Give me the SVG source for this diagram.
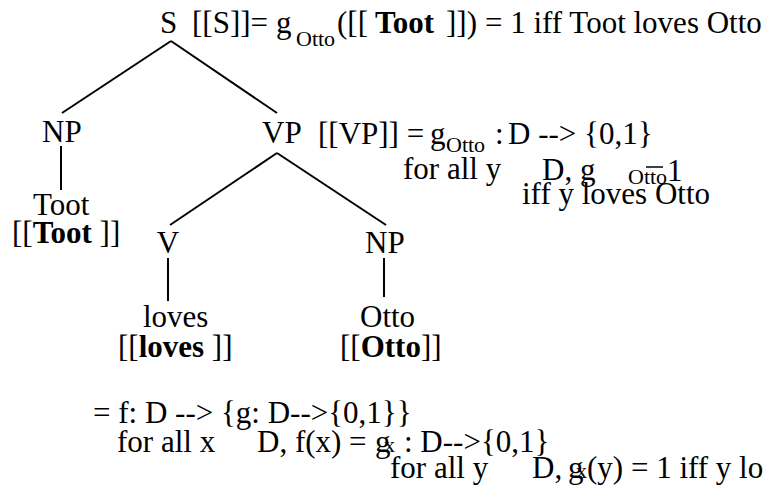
<svg xmlns="http://www.w3.org/2000/svg" width="778" height="489" viewBox="0 0 778 489">
<style>
text{font-family:"Liberation Serif","Times New Roman",serif;font-size:31px;fill:#000}
.b{font-weight:bold}
.sub{font-size:22px}
.sx{font-size:22px}
.edge{stroke:#000;stroke-width:2;fill:none}
</style>
<rect width="778" height="489" fill="#fff"/>
<g id="connectors">
<line class="edge" x1="171" y1="41" x2="62" y2="113"/>
<line class="edge" x1="171" y1="41" x2="277" y2="113"/>
<line class="edge" x1="61" y1="146" x2="61" y2="190"/>
<line class="edge" x1="277" y1="153" x2="170" y2="225"/>
<line class="edge" x1="277" y1="153" x2="386" y2="225"/>
<line class="edge" x1="168" y1="258" x2="168" y2="301"/>
<line class="edge" x1="384" y1="258" x2="384" y2="297"/>
</g>
<g id="node-S"><text x="160" y="33">S</text></g>
<g id="ann-S">
<text y="33"><tspan x="192">[[S]]=</tspan><tspan x="276">g</tspan><tspan class="sub" x="296" y="46">Otto</tspan><tspan x="337" y="33">([[</tspan><tspan class="b" x="375">Toot</tspan><tspan x="446">]])</tspan><tspan x="485">= 1 iff Toot loves Otto</tspan></text>
</g>
<g id="node-NP1"><text x="42" y="142">NP</text></g>
<g id="node-Toot">
<text x="33" y="215">Toot</text>
<text x="12" y="243">[[<tspan class="b">Toot</tspan> ]]</text>
</g>
<g id="node-VP"><text x="262" y="143">VP</text></g>
<g id="ann-VP">
<text y="144"><tspan x="318">[[VP]] =</tspan><tspan x="430">g</tspan><tspan class="sub" x="446" y="152">Otto</tspan><tspan x="495" y="144">:</tspan><tspan x="508">D --&gt; {0,1}</tspan></text>
<text x="403" y="179">for all y</text>
<text x="542" y="180">D, g</text>
<text class="sub" x="628" y="184">Otto</text>
<line x1="646" y1="167" x2="663" y2="167" stroke="#000" stroke-width="1.5"/>
<text x="667" y="181">1</text>
<text x="522" y="204">iff y loves Otto</text>
</g>
<g id="node-V"><text x="168" y="253" text-anchor="middle">V</text></g>
<g id="node-loves">
<text x="143" y="327">loves</text>
<text x="118" y="357">[[<tspan class="b">loves</tspan> ]]</text>
</g>
<g id="node-NP2"><text x="365" y="253">NP</text></g>
<g id="node-Otto">
<text x="360" y="327">Otto</text>
<text x="340" y="357">[[<tspan class="b">Otto</tspan>]]</text>
</g>
<g id="ann-loves">
<text x="93" y="423">= f: D --&gt; {g: D--&gt;{0,1}}</text>
<text x="117" y="452">for all x</text>
<text y="452"><tspan x="257">D, f(x) =</tspan><tspan x="375">g</tspan><tspan class="sx" x="384">x</tspan><tspan x="404">: D--&gt;{0,1}</tspan></text>
<text x="390" y="478">for all y</text>
<text y="478"><tspan x="532">D,</tspan><tspan x="568">g</tspan><tspan class="sx" x="576">x</tspan><tspan x="587">(y) = 1 iff y lo</tspan></text>
</g>
</svg>
